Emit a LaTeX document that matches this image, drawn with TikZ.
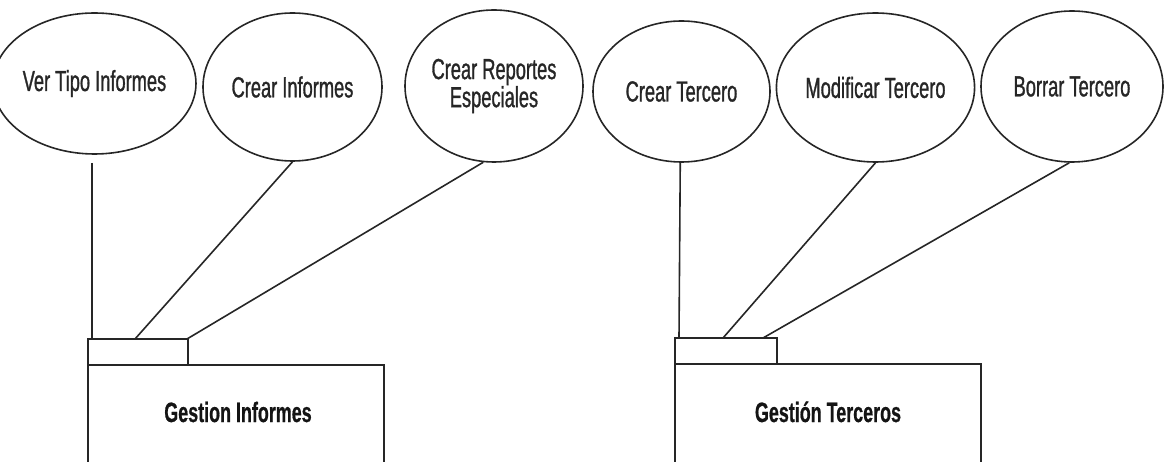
\documentclass[tikz,border=0pt]{standalone}
\usepackage{fontspec}
\setmainfont{Liberation Sans}[
  UprightFeatures={FakeStretch=0.63, FakeBold=1.0},
  BoldFeatures={FakeStretch=0.64, FakeBold=0.6}]
\usetikzlibrary{shapes.geometric}

\tikzset{
  usecase/.style={ellipse, draw=black!85, line width=1.6pt, inner sep=0pt,
    text=black!85, align=center, font=\fontsize{29}{26.7}\selectfont},
  link/.style={draw=black!85, line width=1.6pt},
  pkgline/.style={draw=black!85, line width=1.6pt},
  pkgtab/.style={rectangle, pkgline, inner sep=0pt,
    minimum width=#1, minimum height=26pt},
  pkgbody/.style={rectangle, draw=none, inner sep=0pt},
  pkgname/.style={anchor=base, inner sep=0pt, text=black!92,
    font=\fontsize{28}{30}\selectfont\bfseries},
}

\begin{document}
\begin{tikzpicture}[x=1pt, y=-1pt]
  \useasboundingbox (0,0) rectangle (1168,462);

  % use cases of the reports package
  \node[usecase, minimum width=171pt, minimum height=141pt] (e1) at (94.5,83.5) {Ver Tipo Informes};
  \node[usecase, minimum width=179pt, minimum height=148pt] (e2) at (292.5,87) {Crear Informes};
  \node[usecase, minimum width=178pt, minimum height=152pt] (e3) at (494,86) {Crear Reportes\\Especiales};

  % use cases of the third parties package
  \node[usecase, minimum width=177pt, minimum height=141pt] (e4) at (681.5,91.5) {Crear Tercero};
  \node[usecase, minimum width=183pt, minimum height=149pt] (e5) at (875.5,87.5) {Modificar Tercero};
  \node[usecase, minimum width=182pt, minimum height=151pt] (e6) at (1072,86.5) {Borrar Tercero};

  % package "Gestion Informes"
  \node[pkgtab=100pt] (tab1) at (138,352) {};
  \node[pkgbody, minimum width=296pt, minimum height=97pt] (pk1) at (236,413.5) {};
  \draw[pkgline] (pk1.south west) |- (pk1.north east) -- (pk1.south east);
  \node[pkgname] (n1) at (238,422) {Gestion Informes};

  % package "Gestión Terceros"
  \node[pkgtab=102pt] (tab2) at (726,351) {};
  \node[pkgbody, minimum width=306pt, minimum height=98pt] (pk2) at (828,413) {};
  \draw[pkgline] (pk2.south west) |- (pk2.north east) -- (pk2.south east);
  \node[pkgname] (n2) at (828,422) {Gestión Terceros};

  % named points on the tabs where the links arrive
  \coordinate (a1) at (92,339);
  \coordinate (a2) at (135,339);
  \coordinate (a3) at (187,339);
  \coordinate (a4) at (679,338);
  \coordinate (a5) at (723,338);
  \coordinate (a6) at (763,338);

  % links
  \draw[link] ([yshift=-8pt]e1.south -| a1) -- (a1);
  \draw[link] (e2.south) -- (a2);
  \draw[link] (e3.262) -- (a3);
  \draw[link] (e4.269) -- (a4);
  \draw[link] (e5.south) -- (a5);
  \draw[link] (e6.268) -- (a6);
\end{tikzpicture}
\end{document}
